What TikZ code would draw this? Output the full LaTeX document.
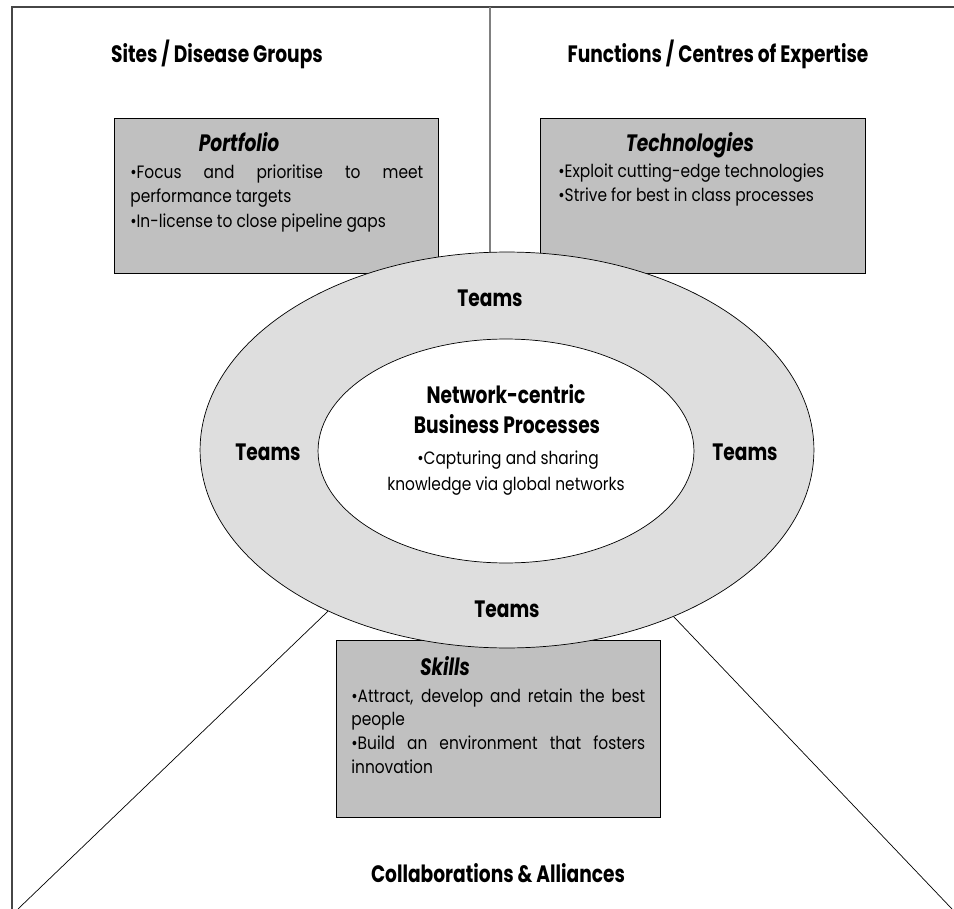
\documentclass[tikz,border=0pt]{standalone}
\usepackage{fontspec}
\setmainfont{Poppins}[UprightFeatures={FakeStretch=0.86}, BoldFeatures={FakeStretch=0.785}, BoldItalicFeatures={FakeStretch=0.785}]
\usetikzlibrary{shapes.geometric}

\definecolor{boxgray}{RGB}{192,192,192}
\definecolor{ringgray}{RGB}{222,222,222}
\definecolor{framegray}{RGB}{70,70,70}

\tikzset{
  heading/.style={font=\fontsize{13.5}{16}\selectfont\bfseries, anchor=base, inner sep=0pt},
  boxtitle/.style={font=\fontsize{13.5}{16}\selectfont\bfseries\itshape, anchor=base, inner sep=0pt},
  bullet/.style={font=\fontsize{10.2}{12}\selectfont, anchor=base west, inner sep=0pt},
  centred/.style={font=\fontsize{10.2}{12}\selectfont, anchor=base, inner sep=0pt},
  greybox/.style={draw, line width=0.8pt, fill=boxgray, anchor=north west, inner sep=0pt},
}

\begin{document}
\begin{tikzpicture}[x=0.02cm, y=-0.02cm]
    \useasboundingbox (0,0) rectangle (954,909);
    \draw[framegray, line width=0.9pt] (12,909) |- (954,7);
    \coordinate (top) at (490,7);
    \coordinate (mid) at (490,300);
    \coordinate (bl) at (18,909);
    \coordinate (br) at (952,909);
    \draw[gray, line width=0.6pt] (top) -- (mid);

    % the three grey boxes
    \node[greybox, minimum width=6.48cm, minimum height=3.1cm] (portfolio) at (114,118) {};
    \node[greybox, minimum width=6.5cm, minimum height=3.1cm] (technologies) at (540,118) {};
    \node[greybox, minimum width=6.48cm, minimum height=3.54cm] (skills) at (336,640) {};

    % rings
    \node[ellipse, draw, fill=ringgray, minimum width=12.28cm, minimum height=7.92cm, inner sep=0pt] (outer) at (507,450) {};
    \node[ellipse, draw, fill=white, minimum width=7.52cm, minimum height=4.48cm, inner sep=0pt] (inner) at (506,451) {};
    \draw (outer.222) -- (bl);
    \draw (outer.315) -- (br);

    \node[heading] (sites) at (217,63) {Sites / Disease Groups};
    \node[heading] (functions) at (718,63) {Functions / Centres of Expertise};
    \node[heading] (collab) at (498,882) {Collaborations \& Alliances};

    \node[boxtitle] (pftitle) at (239,152) {Portfolio};
    \foreach \t [count=\i from 0] in {{\makebox[5.86cm][s]{•Focus and prioritise to meet}}, performance targets, •In-license to close pipeline gaps}
      \node[bullet] (pf\i) at (130,178+24.5*\i) {\t};

    \node[boxtitle] (tctitle) at (690,152) {Technologies};
    \foreach \t [count=\i from 0] in {•Exploit cutting-edge technologies, •Strive for best in class processes}
      \node[bullet] (tc\i) at (558,177+24.5*\i) {\t};

    \node[boxtitle] (sktitle) at (445,675) {Skills};
    \foreach \t [count=\i from 0] in {{\makebox[5.88cm][s]{•Attract, develop and retain the best}}, people, {\makebox[5.88cm][s]{•Build an environment that fosters}}, innovation}
      \node[bullet] (sk\i) at (351,702+23.7*\i) {\t};

    \node[heading] (tmtop) at (490,306) {Teams};
    \node[heading] (tmleft) at (268,460) {Teams};
    \node[heading] (tmright) at (745,460) {Teams};
    \node[heading] (tmbottom) at (507,617) {Teams};

    \node[heading] (net1) at (506,403) {Network-centric};
    \node[heading] (net2) at (507,433) {Business Processes};
    \node[centred] (net3) at (508,464) {•Capturing and sharing};
    \node[centred] (net4) at (506,490) {knowledge via global networks};
\end{tikzpicture}
\end{document}
